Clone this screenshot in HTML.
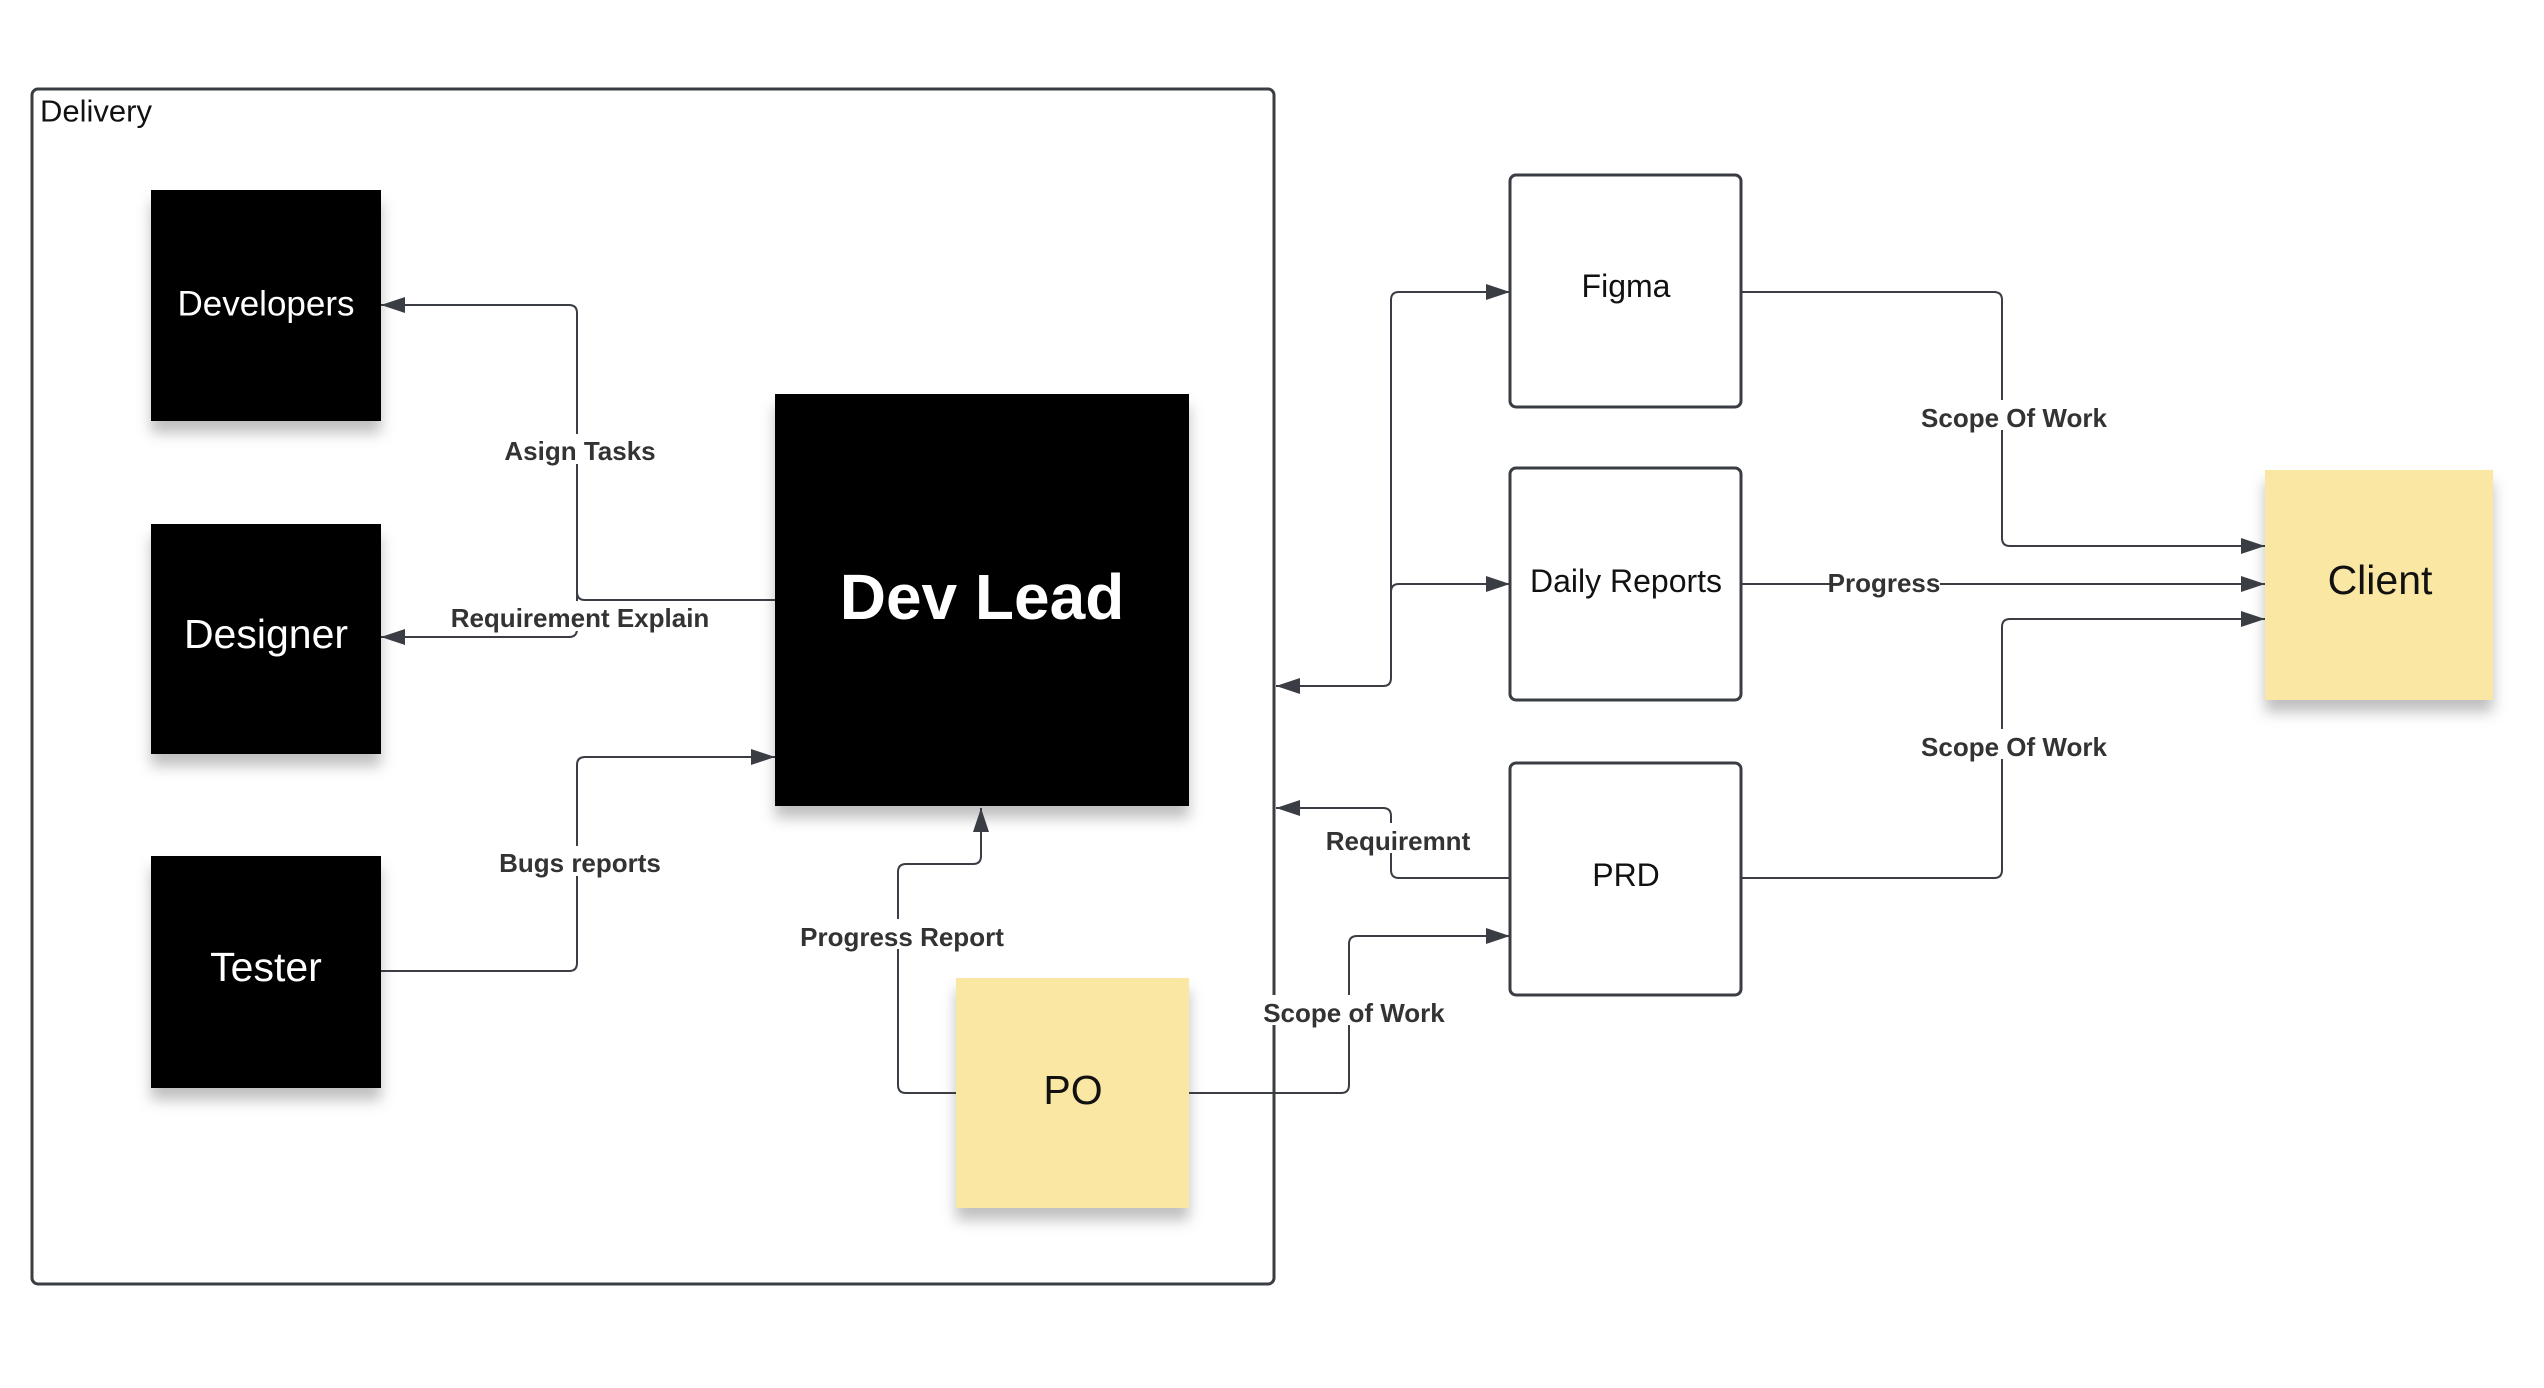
<!DOCTYPE html>
<html><head><meta charset="utf-8"><style>
html,body{margin:0;padding:0;background:#fff;}
svg{display:block;}
.lab{font-family:"Liberation Sans",sans-serif;font-weight:bold;font-size:26px;fill:#333;text-anchor:middle;dominant-baseline:central;}
.nt{font-family:"Liberation Sans",sans-serif;text-anchor:middle;dominant-baseline:central;}
</style></head><body>
<svg width="2544" height="1388" viewBox="0 0 2544 1388" xmlns="http://www.w3.org/2000/svg">
<defs>
<marker id="b" markerWidth="24" markerHeight="16" refX="24" refY="8" orient="auto" markerUnits="userSpaceOnUse" viewBox="0 0 24 16">
<path d="M0,0 L24,8 L0,16 z" fill="#3a3d44"/></marker>
<filter id="sh" x="-20%" y="-20%" width="140%" height="150%"><feDropShadow dx="0" dy="12" stdDeviation="7" flood-color="#000" flood-opacity="0.25"/></filter>
</defs>
<rect x="32" y="89" width="1242" height="1195" rx="6" fill="none" stroke="#3a3d44" stroke-width="3"/>
<text x="40" y="111" class="nt" style="text-anchor:start;font-size:31px;fill:#111">Delivery</text>

<g fill="#000" filter="url(#sh)">
<rect x="151" y="190" width="230" height="231"/>
<rect x="151" y="524" width="230" height="230"/>
<rect x="151" y="856" width="230" height="232"/>
<rect x="775" y="394" width="414" height="412"/>
</g>
<rect x="956" y="978" width="233" height="230" fill="#fae7a3" filter="url(#sh)"/>
<rect x="2265" y="470" width="228" height="230" fill="#fae7a3" filter="url(#sh)"/>

<g fill="none" stroke="#3a3d44" stroke-width="2">
<path d="M775,600 H585 Q577,600 577,592 V313 Q577,305 569,305 H381" marker-end="url(#b)"/>
<path d="M577,592 V629 Q577,637 569,637 H381" marker-end="url(#b)"/>
<path d="M381,971 H569 Q577,971 577,963 V765 Q577,757 585,757 H775" marker-end="url(#b)"/>
<path d="M956,1093 H906 Q898,1093 898,1085 V872 Q898,864 906,864 H973 Q981,864 981,856 V808" marker-end="url(#b)"/>
<path d="M1189,1093 H1341 Q1349,1093 1349,1085 V944 Q1349,936 1357,936 H1510" marker-end="url(#b)"/>
<path d="M1510,878 H1399 Q1391,878 1391,870 V816 Q1391,808 1383,808 H1276" marker-end="url(#b)"/>
<path d="M1391,300 V678 Q1391,686 1383,686 H1276" marker-end="url(#b)"/>
<path d="M1391,300 Q1391,292 1399,292 H1510" marker-end="url(#b)"/>
<path d="M1391,592 Q1391,584 1399,584 H1510" marker-end="url(#b)"/>
<path d="M1741,292 H1994 Q2002,292 2002,300 V538 Q2002,546 2010,546 H2265" marker-end="url(#b)"/>
<path d="M1741,584 H2265" marker-end="url(#b)"/>
<path d="M1741,878 H1994 Q2002,878 2002,870 V627 Q2002,619 2010,619 H2265" marker-end="url(#b)"/>
</g>

<g fill="#fff" stroke="#3a3d44" stroke-width="3">
<rect x="1510" y="175" width="231" height="232" rx="6"/>
<rect x="1510" y="468" width="231" height="232" rx="6"/>
<rect x="1510" y="763" width="231" height="232" rx="6"/>
</g>

<g class="nt" fill="#fff">
<text x="266" y="304" style="font-size:35px">Developers</text>
<text x="266" y="634" style="font-size:41px">Designer</text>
<text x="266" y="967" style="font-size:41px">Tester</text>
<text x="982" y="597" style="font-size:64px;font-weight:bold">Dev Lead</text>
</g>
<g class="nt" fill="#111">
<text x="1073" y="1090" style="font-size:41px">PO</text>
<text x="2380" y="580" style="font-size:41px">Client</text>
<text x="1626" y="286" style="font-size:32px">Figma</text>
<text x="1626" y="581" style="font-size:32px">Daily Reports</text>
<text x="1626" y="875" style="font-size:32px">PRD</text>
</g>

<g>
<rect x="500" y="434" width="154" height="30" fill="#fff"/>
<rect x="447" y="601" width="260" height="30" fill="#fff"/>
<rect x="497" y="846" width="160" height="30" fill="#fff"/>
<rect x="797" y="919" width="202" height="30" fill="#fff"/>
<rect x="1262" y="995" width="176" height="30" fill="#fff"/>
<rect x="1320" y="823" width="144" height="30" fill="#fff"/>
<rect x="1920" y="400" width="166" height="30" fill="#fff"/>
<rect x="1830" y="566" width="110" height="30" fill="#fff"/>
<rect x="1920" y="729" width="166" height="30" fill="#fff"/>
</g>
<g class="lab">
<text x="580" y="451">Asign Tasks</text>
<text x="580" y="618">Requirement Explain</text>
<text x="580" y="863">Bugs reports</text>
<text x="902" y="937">Progress Report</text>
<text x="1354" y="1013">Scope of Work</text>
<text x="1398" y="841">Requiremnt</text>
<text x="2014" y="418">Scope Of Work</text>
<text x="1884" y="583">Progress</text>
<text x="2014" y="747">Scope Of Work</text>
</g>
</svg>
</body></html>
